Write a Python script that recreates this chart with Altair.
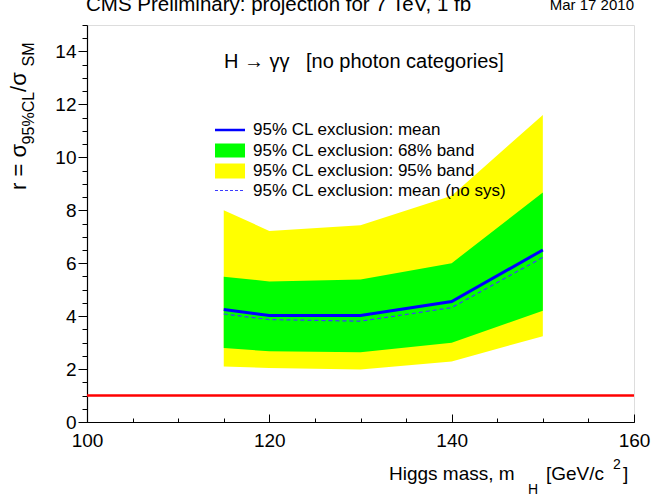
import altair as alt
import pandas as pd

# ---- data ----
mass = [115, 120, 130, 140, 150]
mean_limit = [4.25, 4.02, 4.02, 4.55, 6.50]
mean_nosys = [4.08, 3.87, 3.81, 4.32, 6.22]
band68_lo = [2.80, 2.67, 2.64, 2.99, 4.20]
band68_hi = [5.49, 5.31, 5.38, 6.00, 8.67]
band95_lo = [2.10, 2.04, 1.98, 2.29, 3.24]
band95_hi = [8.00, 7.22, 7.43, 8.55, 11.60]
sm_level = [1.0]

x_major = [100, 120, 140, 160]
x_minor = [100, 105, 110, 115, 120, 125, 130, 135, 140, 145, 150, 155, 160]
y_major = [0, 2, 4, 6, 8, 10, 12, 14]
y_minor = [v / 2 for v in range(0, 31)]

legend_labels = [
    "95% CL exclusion: mean",
    "95% CL exclusion: 68% band",
    "95% CL exclusion: 95% band",
    "95% CL exclusion: mean (no sys)",
]

FONT = "Liberation Sans"
W, H = 547, 397

df = pd.DataFrame({
    "mass": mass, "mean": mean_limit, "nosys": mean_nosys,
    "lo68": band68_lo, "hi68": band68_hi, "lo95": band95_lo, "hi95": band95_hi,
})

xs = alt.Scale(domain=[100, 160], nice=False, zero=False)
ys = alt.Scale(domain=[0, 15], nice=False, zero=True)

ax_x_main = alt.Axis(values=x_major, orient="bottom", title=None, ticks=False, tickSize=0,
                     domain=True, domainColor="black", domainWidth=1.2, grid=False,
                     labelFont=FONT, labelFontSize=19, labelColor="black", labelPadding=9,
                     labelFlush=False)
ax_x_major = alt.Axis(values=x_major, orient="bottom", title=None, offset=-8, tickSize=8,
                      tickColor="black", tickWidth=1, labels=False, domain=False, grid=False)
ax_x_minor = alt.Axis(values=x_minor, orient="bottom", title=None, offset=-4, tickSize=4,
                      tickColor="black", tickWidth=1, labels=False, domain=False, grid=False)
ax_y_main = alt.Axis(values=y_major, orient="left", title=None, tickSize=9, tickColor="black",
                     tickWidth=1, domain=True, domainColor="black", domainWidth=1.2, grid=False,
                     labelFont=FONT, labelFontSize=19, labelColor="black", labelPadding=2)
ax_y_minor = alt.Axis(values=y_minor, orient="left", title=None, tickSize=5, tickColor="black",
                      tickWidth=1, labels=False, domain=False, grid=False)

base = alt.Chart(df)

band95 = base.mark_area(color="#ffff00", opacity=1).encode(
    x=alt.X("mass:Q", scale=xs, axis=ax_x_main),
    y=alt.Y("lo95:Q", scale=ys, axis=ax_y_main),
    y2="hi95:Q",
)
band68 = base.mark_area(color="#00ff00", opacity=1).encode(
    x=alt.X("mass:Q", scale=xs, axis=ax_x_major),
    y=alt.Y("lo68:Q", scale=ys, axis=ax_y_minor),
    y2="hi68:Q",
)
mean_line = base.mark_line(color="#0000ff", strokeWidth=3).encode(
    x=alt.X("mass:Q", scale=xs, axis=ax_x_minor),
    y=alt.Y("mean:Q", scale=ys, axis=None),
)
nosys_line = base.mark_line(color="#3c3cff", strokeWidth=1.2, strokeDash=[4, 3]).encode(
    x=alt.X("mass:Q", scale=xs, axis=None),
    y=alt.Y("nosys:Q", scale=ys, axis=None),
)
sm_line = alt.Chart(pd.DataFrame({"r": sm_level})).mark_rule(color="#ff0000", strokeWidth=2.5).encode(
    y=alt.Y("r:Q", scale=ys, axis=None),
)


def txt(s, x, y, size, align="left", baseline="alphabetic", angle=0, color="black", font=FONT):
    kw = dict(align=align, baseline=baseline, font=font, fontSize=size, color=color)
    if angle:
        kw["angle"] = angle
    return alt.Chart(pd.DataFrame({"t": [s]})).mark_text(**kw).encode(
        x=alt.value(x), y=alt.value(y), text="t:N")


# Arial-like advance widths (per 1000 em) for composing sub/superscripts
AW = {"r": 333, " ": 278, "=": 584, "σ": 600, "9": 556, "5": 556, "%": 889, "C": 722,
      "L": 556, "/": 278, "S": 667, "M": 833}


def tw(s, size):
    return sum(AW.get(c, 556) for c in s) * size / 1000.0


texts = []
# top title (cut by the page top, as in the reference)
texts.append(txt("CMS Preliminary: projection for 7 TeV, 1 fb", -1, -14, 20.5))
texts.append(txt("Mar 17 2010", 547, -15, 15, align="right"))
# inner label
texts.append(txt("H → γγ", 137, 43, 20))
texts.append(txt("[no photon categories]", 219, 43, 20))

# y title: r = σ_{95%CL} /σ_{SM}, rotated
yb = 165
xm, xs_sub = -61, -53
segs = [("r = σ", 22, xm), ("95%CL", 16, xs_sub), (" /σ", 22, xm), ("SM", 16, xs_sub)]
for s, size, xx in segs:
    texts.append(txt(s, xx, yb, size, angle=270))
    yb -= tw(s, size)

# x title: Higgs mass, m_H [GeV/c^2]
texts.append(txt("Higgs mass, m", 302, 455, 19))
texts.append(txt("H", 441, 469, 14))
texts.append(txt("[GeV/c", 459, 455, 19))
texts.append(txt("2", 526, 444, 14))
texts.append(txt("]", 536, 455, 19))

# legend
lx0, lx1, ltx = 128, 158, 166
row_y = [105, 125.5, 146, 165.5]
leg = []
leg.append(alt.Chart(pd.DataFrame({"a": [0]})).mark_rule(color="#0000ff", strokeWidth=2.5).encode(
    x=alt.value(lx0), x2=alt.value(lx1), y=alt.value(row_y[0])))
leg.append(alt.Chart(pd.DataFrame({"a": [0]})).mark_rect(color="#00ff00").encode(
    x=alt.value(lx0), x2=alt.value(lx1), y=alt.value(row_y[1] - 7), y2=alt.value(row_y[1] + 7)))
leg.append(alt.Chart(pd.DataFrame({"a": [0]})).mark_rect(color="#ffff00").encode(
    x=alt.value(lx0), x2=alt.value(lx1), y=alt.value(row_y[2] - 7.5), y2=alt.value(row_y[2] + 7.5)))
leg.append(alt.Chart(pd.DataFrame({"a": [0]})).mark_rule(color="#3c3cff", strokeWidth=1.2,
                                                          strokeDash=[3, 2]).encode(
    x=alt.value(lx0), x2=alt.value(lx1), y=alt.value(row_y[3])))
for lab, yy in zip(legend_labels, row_y):
    leg.append(txt(lab, ltx, yy, 17, baseline="middle"))

chart = alt.layer(
    band95, band68, mean_line, nosys_line, sm_line, *leg, *texts
).resolve_axis(x="independent", y="independent").properties(
    width=W, height=H,
    autosize=alt.AutoSizeParams(type="none"),
    padding={"left": 87, "top": 25, "right": 20, "bottom": 81},
).configure_view(stroke="#444444", strokeWidth=1.5).configure(background="white")

chart.save("out.html", embed_options={"renderer": "svg", "actions": False})
